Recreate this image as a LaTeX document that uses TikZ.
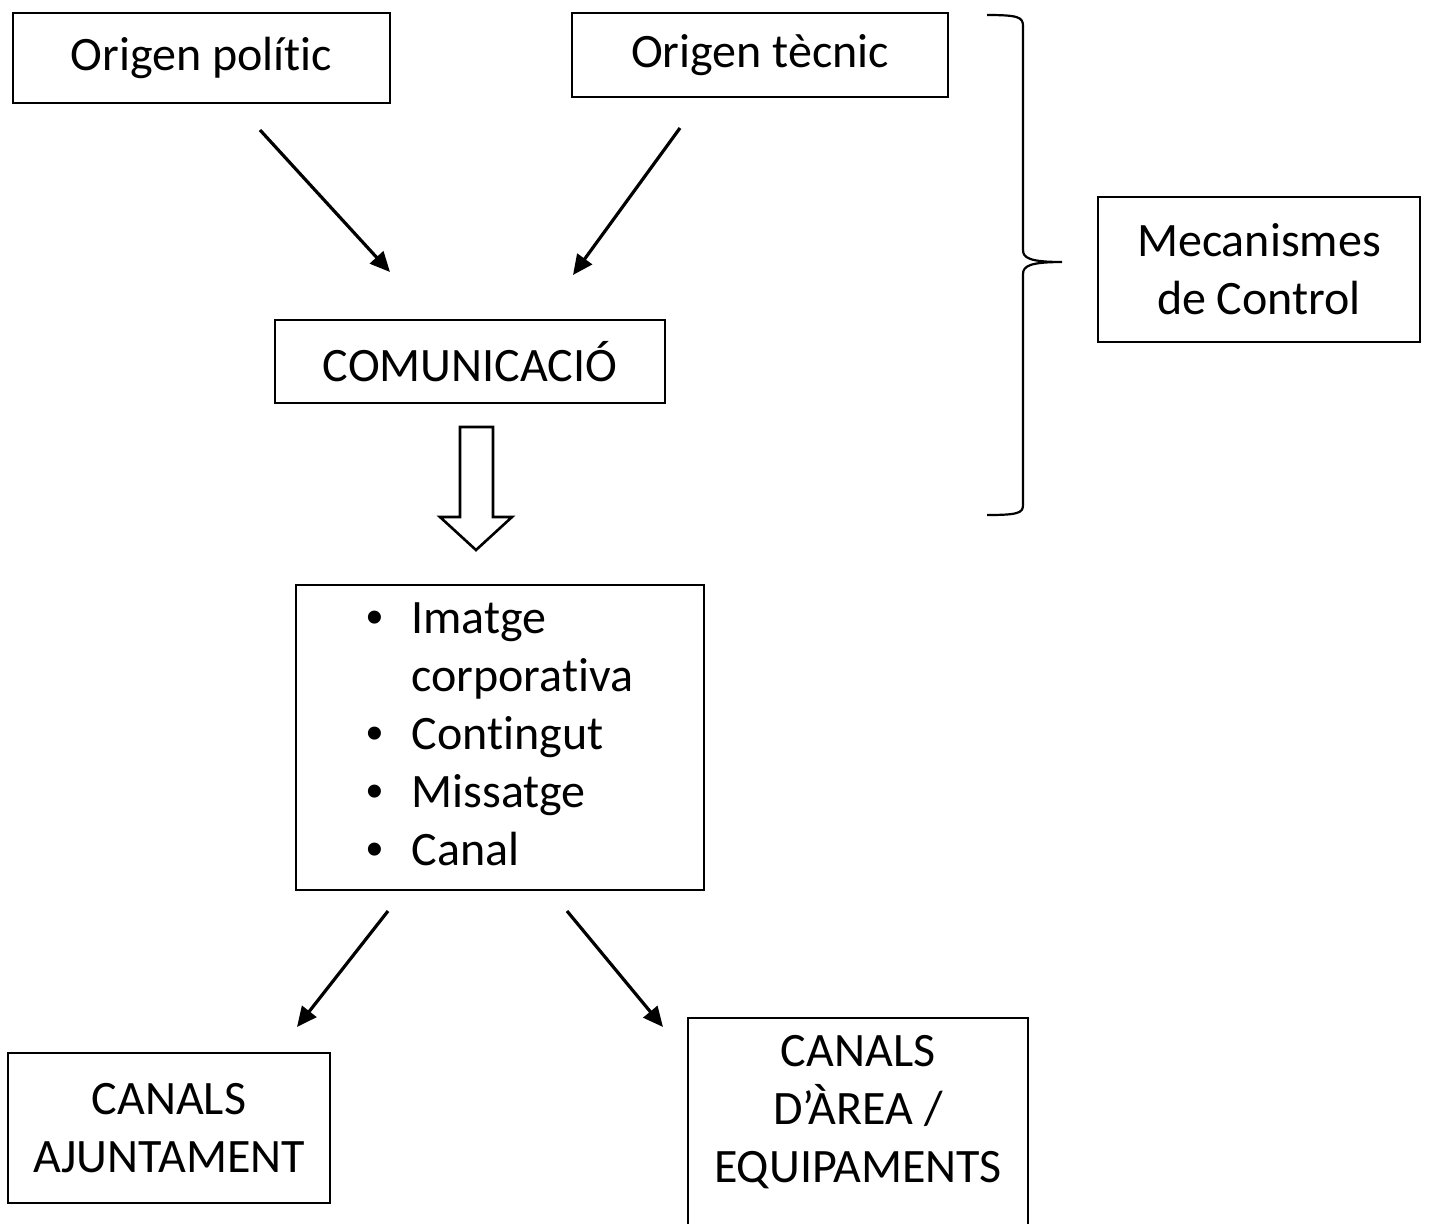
\documentclass[tikz,border=0pt]{standalone}
\usepackage{fontspec}
\setmainfont{Carlito}[Ligatures=NoCommon]
\newfontfamily\bulletfont{Liberation Sans}
\usetikzlibrary{arrows.meta}

\begin{document}
\begin{tikzpicture}[x=0.5pt, y=-0.5pt,
        box/.style={draw, line width=1.4pt, align=center, inner sep=0pt,
                    font=\fontsize{24}{29}\selectfont},
        conn/.style={-{Triangle[length=10pt, width=9pt]}, line width=1.6pt},
      ]
      \useasboundingbox (0,0) rectangle (1429,1223);
      \node[box, minimum width=188.5pt, minimum height=45pt] (politic) at (201.5,58) {Origen polític};
      \node[box, minimum width=188pt, minimum height=42pt] (tecnic) at (760,55) {Origen tècnic};
      \node[box, minimum width=195pt, minimum height=41.5pt] (comunic) at (470,361.5) {COMUNICACIÓ};
      \node[box, minimum width=161pt, minimum height=72.5pt] (control) at (1259,269.5) {Mecanismes\\ de Control};
      \node[box, minimum width=204pt, minimum height=152.5pt] (items) at (500,737.5)
        {\begin{tabular}{@{}l@{\hspace{14pt}}l@{}}
          {\bulletfont •} & Imatge\\
                          & corporativa\\
          {\bulletfont •} & Contingut\\
          {\bulletfont •} & Missatge\\
          {\bulletfont •} & Canal
        \end{tabular}};
      \node[box, minimum width=161pt, minimum height=75pt] (ajunt) at (169,1128) {CANALS\\ AJUNTAMENT};
      \node[box, minimum width=170pt, minimum height=104pt] (area) at (858,1122)
        {CANALS\\ D’ÀREA /\\ EQUIPAMENTS\\[-16pt]\mbox{}};

      % free ends of the thin arrows
      \coordinate (p1) at (260,130);  \coordinate (p2) at (390,272);
      \coordinate (t1) at (680,128);  \coordinate (t2) at (573,275);
      \coordinate (c1) at (388,911);  \coordinate (c2) at (297,1027);
      \coordinate (e1) at (567,911);  \coordinate (e2) at (663,1027);
      \draw[conn] (p1) -- (p2);
      \draw[conn] (t1) -- (t2);
      \draw[conn] (c1) -- (c2);
      \draw[conn] (e1) -- (e2);

      % hollow arrow down
      \draw[line width=1.3pt, line join=miter] (460,427) -- (493,427) -- (493,517) -- (512,517)
        -- (476,550) -- (440,517) -- (460,517) -- cycle;

      % brace round the top part
      \draw[line width=1.1pt] (987,15) .. controls (1018,15) and (1023,17) .. (1023,26)
        -- (1023,250) .. controls (1023,258) and (1030,262) .. (1062,262)
        (1062,262) .. controls (1030,262) and (1023,266) .. (1023,274)
        -- (1023,505) .. controls (1023,513) and (1018,515) .. (987,515);
    \end{tikzpicture}
\end{document}
